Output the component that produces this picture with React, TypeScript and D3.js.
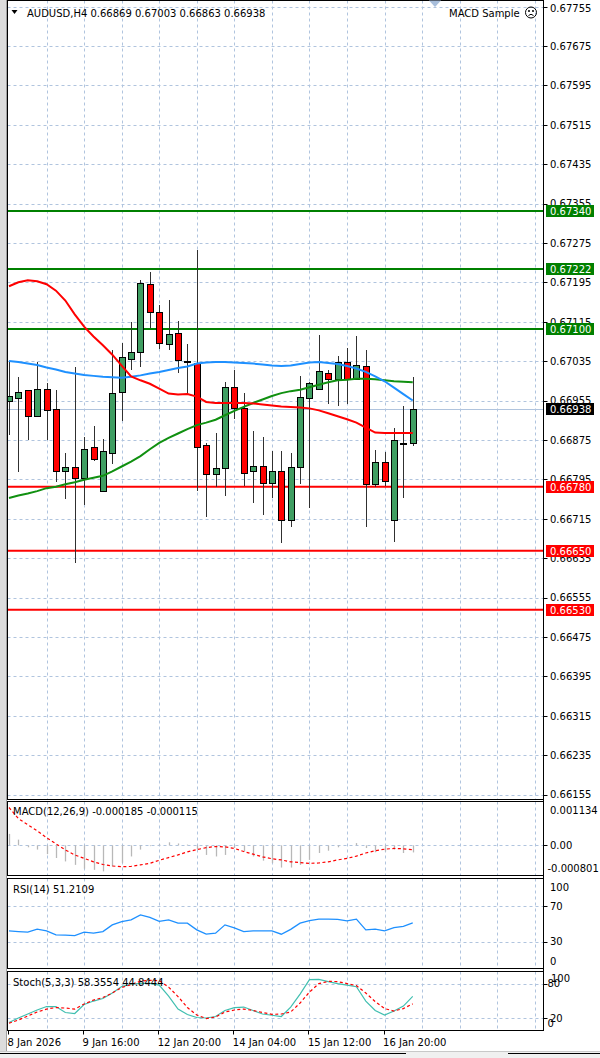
import React from "react";
import * as d3 from "d3";

// ---------- data ----------
const dateLabels = ["8 Jan 2026", "9 Jan 16:00", "12 Jan 20:00", "14 Jan 04:00", "15 Jan 12:00", "16 Jan 20:00"];
const dateLabelBars = [0, 8, 16, 24, 32, 40];

const openP = [0.66954,0.66961,0.66976,0.66923,0.66978,0.66937,0.66811,0.66820,0.66797,0.66860,0.66772,0.66849,0.66972,0.67040,0.67053,0.67191,0.67134,0.67069,0.67093,0.67035,0.67031,0.66864,0.66806,0.66818,0.66983,0.66940,0.66811,0.66823,0.66787,0.66811,0.66713,0.66820,0.66960,0.66979,0.67011,0.66999,0.67033,0.66999,0.67026,0.66786,0.66831,0.66713,0.66867,0.66869];
const highP = [0.67036,0.67002,0.66977,0.67033,0.66990,0.66976,0.66849,0.67024,0.66881,0.66904,0.66876,0.67058,0.67071,0.67115,0.67199,0.67215,0.67148,0.67160,0.67116,0.67069,0.67260,0.66868,0.66890,0.66992,0.67016,0.66971,0.66893,0.66881,0.66852,0.66852,0.66849,0.67004,0.66992,0.67088,0.67017,0.67046,0.67062,0.67086,0.67058,0.66855,0.66850,0.66900,0.66943,0.67003];
const lowP = [0.66884,0.66809,0.66874,0.66921,0.66874,0.66789,0.66754,0.66626,0.66742,0.66832,0.66771,0.66826,0.66914,0.67016,0.67023,0.67103,0.67059,0.67057,0.67010,0.66969,0.66772,0.66718,0.66779,0.66762,0.66918,0.66782,0.66746,0.66722,0.66757,0.66665,0.66698,0.66786,0.66736,0.66978,0.66948,0.66943,0.66948,0.66998,0.66699,0.66780,0.66782,0.66667,0.66757,0.66863];
const closeP = [0.66964,0.66973,0.66923,0.66978,0.66935,0.66811,0.66820,0.66798,0.66856,0.66837,0.66852,0.66971,0.67043,0.67053,0.67193,0.67134,0.67071,0.67091,0.67038,0.67034,0.66860,0.66806,0.66818,0.66983,0.66940,0.66808,0.66823,0.66787,0.66811,0.66713,0.66820,0.66962,0.66991,0.67014,0.66999,0.67033,0.66999,0.67028,0.66786,0.66831,0.66791,0.66874,0.66869,0.66938];

const maRed = [0.67187,0.67195,0.67199,0.67197,0.67191,0.67178,0.67158,0.67130,0.67105,0.67085,0.67067,0.67048,0.67026,0.67004,0.66996,0.66989,0.66979,0.66969,0.66967,0.66968,0.66963,0.66952,0.66950,0.66950,0.66950,0.66950,0.66949,0.66947,0.66945,0.66943,0.66942,0.66941,0.66939,0.66935,0.66929,0.66923,0.66917,0.66910,0.66900,0.66890,0.66889,0.66889,0.66889,0.66889];
const maBlue = [0.67035,0.67033,0.67030,0.67027,0.67022,0.67018,0.67013,0.67010,0.67007,0.67005,0.67003,0.67002,0.67001,0.67003,0.67006,0.67010,0.67013,0.67017,0.67021,0.67024,0.67030,0.67032,0.67033,0.67033,0.67032,0.67031,0.67030,0.67028,0.67026,0.67025,0.67026,0.67029,0.67032,0.67033,0.67031,0.67029,0.67025,0.67020,0.67013,0.67004,0.66994,0.66981,0.66968,0.66955];
const maGreen = [0.66757,0.66762,0.66766,0.66771,0.66777,0.66780,0.66785,0.66789,0.66794,0.66798,0.66802,0.66811,0.66821,0.66831,0.66842,0.66856,0.66869,0.66879,0.66888,0.66897,0.66905,0.66910,0.66916,0.66925,0.66934,0.66942,0.66950,0.66957,0.66964,0.66970,0.66974,0.66977,0.66982,0.66987,0.66992,0.66996,0.66997,0.66999,0.66999,0.66998,0.66996,0.66994,0.66993,0.66992];

const macdMain = [0.00030,0.00015,-0.00005,-0.00011,-0.00023,-0.00033,-0.00042,-0.00051,-0.00061,-0.00064,-0.00068,-0.00055,-0.00046,-0.00029,-0.00011,-0.00002,0.00003,0.00008,0.00005,0.00002,-0.00011,-0.00025,-0.00029,-0.00025,-0.00007,-0.00016,-0.00029,-0.00040,-0.00046,-0.00058,-0.00058,-0.00051,-0.00038,-0.00020,-0.00014,-0.00005,0.00000,0.00006,-0.00007,-0.00018,-0.00016,-0.00011,-0.00020,-0.000185];
const macdSignal = [0.00099,0.00070,0.00054,0.00038,0.00020,0.00004,-0.00012,-0.00025,-0.00034,-0.00043,-0.00050,-0.00054,-0.00056,-0.00055,-0.00051,-0.00047,-0.00039,-0.00032,-0.00025,-0.00017,-0.00011,-0.00006,-0.00003,-0.00004,-0.00008,-0.00016,-0.00023,-0.00030,-0.00035,-0.00038,-0.00043,-0.00045,-0.00047,-0.00046,-0.00043,-0.00038,-0.00034,-0.00028,-0.00020,-0.00014,-0.00010,-0.00008,-0.00009,-0.000115];

const rsi = [42.2,41.4,40.7,44.1,42.2,37.6,37.3,36.8,40.7,39.6,41.4,49.0,52.8,54.7,60.4,57.4,53.0,54.7,51.0,51.0,43.3,38.4,39.6,49.0,45.6,41.4,42.2,42.2,42.2,38.4,43.9,51.0,53.9,55.5,55.5,55.3,53.6,55.5,43.3,44.1,42.2,46.0,47.3,51.2109];

const stochK = [11.3,19.4,26.6,33.8,40.0,40.0,29.3,27.5,43.6,49.9,54.4,64.3,75.9,80.4,81.7,81.7,78.6,58.9,35.5,25.7,20.3,19.4,22.1,32.9,38.2,39.1,32.9,26.6,24.4,22.1,39.1,62.5,88.5,88.9,84.9,81.3,78.6,75.6,49.9,32.9,24.8,32.0,40.9,58.3554];
const stochD = [9.9,15.8,23.0,30.2,35.5,38.2,37.3,35.5,44.5,51.7,56.2,64.3,74.1,79.5,85.8,87.1,86.7,75.0,58.0,38.2,24.8,18.5,21.2,30.2,33.8,35.5,32.9,29.3,26.0,26.6,30.2,46.3,66.1,81.3,85.3,84.9,81.3,77.7,64.3,49.0,36.4,32.0,36.4,44.8444];

const priceTicks = [0.67755,0.67675,0.67595,0.67515,0.67435,0.67355,0.67275,0.67195,0.67115,0.67035,0.66955,0.66875,0.66795,0.66715,0.66635,0.66555,0.66475,0.66395,0.66315,0.66235,0.66155];
const resistanceLevels = [0.67340, 0.67222, 0.67100];
const supportLevels = [0.66780, 0.66650, 0.66530];
const lastPrice = 0.66938;
const macdRange = [-0.000801, 0.001134];
const rsiLevels = [70, 30];
const stochLevels = [80, 20];

const FONT = "'DejaVu Sans', Tahoma, sans-serif";
const GRID = "#b0c4de";
const BULL = "#3f9e62";
const BEAR = "#ff0000";

export default function App() {
  const L = 7.5, R = 543.5;
  const mainTop = 0.5, mainBot = 799.5;
  const macdTop = 801.5, macdBot = 875.5;
  const rsiTop = 878.5, rsiBot = 968.5;
  const stTop = 971.5, stBot = 1030.5;

  const x = d3.scaleLinear().domain([0, 57]).range([9, 544.2]);
  const y = d3.scaleLinear().domain([0.66155, 0.67755]).range([794.5, 6.5]);
  const yM = d3.scaleLinear().domain(macdRange).range([876, 802]);
  const yR = d3.scaleLinear().domain([0, 100]).range([968, 880]);
  const yS = d3.scaleLinear().domain([0, 100]).range([1028.8, 973.2]);

  const gridBars = d3.range(4, 57, 4);
  const idx = d3.range(openP.length);
  const mk = (arr: number[], sc: any) =>
    d3.line<number>().x((_, i) => x(i)).y((d) => sc(d)).curve(d3.curveLinear)(arr) || "";

  const vGrid = (top: number, bot: number) =>
    gridBars.map((b) => (
      <line key={"vg" + b} x1={Math.round(x(b)) + 0.5} x2={Math.round(x(b)) + 0.5} y1={top} y2={bot}
        stroke={GRID} strokeDasharray="3,3" />
    ));
  const hLine = (yy: number, key: string) => (
    <line key={key} x1={L} x2={R} y1={Math.round(yy) + 0.5} y2={Math.round(yy) + 0.5} stroke={GRID} strokeDasharray="3,3" />
  );
  const tick = (yy: number, key: string) => (
    <line key={key} x1={R} x2={R + 4} y1={Math.round(yy) + 0.5} y2={Math.round(yy) + 0.5} stroke="#000" />
  );

  const levelBox = (p: number, fill: string, key: string) => {
    const yy = Math.round(y(p));
    return (
      <g key={key}>
        <rect x={546} y={yy - 6} width={48} height={12} fill={fill} />
        <text x={550} y={yy + 3.8} fill="#fff">{p.toFixed(5)}</text>
      </g>
    );
  };

  return (
    <svg width={600} height={1058} style={{ position: "absolute", left: 0, top: 0, background: "#fff" }}
      fontFamily={FONT} fontSize={10}>
      <defs>
        <clipPath id="cMain"><rect x={8} y={1} width={535} height={798} /></clipPath>
        <clipPath id="cMacd"><rect x={8} y={802} width={535} height={73} /></clipPath>
        <clipPath id="cRsi"><rect x={8} y={879} width={535} height={89} /></clipPath>
        <clipPath id="cSt"><rect x={8} y={972} width={535} height={58} /></clipPath>
      </defs>
      <rect x={0} y={0} width={600} height={1058} fill="#fff" />
      {/* window frame */}
      <rect x={0} y={0} width={6} height={1052} fill="#dcdcdc" />
      <line x1={6.5} x2={6.5} y1={0} y2={1052} stroke="#a0a0a0" />

      {/* ---------- main panel ---------- */}
      {vGrid(mainTop, mainBot)}
      {priceTicks.map((t) => hLine(y(t), "hg" + t))}
      <g clipPath="url(#cMain)">
        <line x1={L} x2={R} y1={Math.round(y(lastPrice)) + 0.5} y2={Math.round(y(lastPrice)) + 0.5} stroke="#b0c4de" />
        {resistanceLevels.map((p) => (
          <line key={"rl" + p} x1={L} x2={R} y1={y(p)} y2={y(p)} stroke="#008000" strokeWidth={2} />
        ))}
        {supportLevels.map((p) => (
          <line key={"sl" + p} x1={L} x2={R} y1={y(p)} y2={y(p)} stroke="#ff0000" strokeWidth={2} />
        ))}
        {idx.map((i) => {
          const cx = Math.round(x(i));
          const o = openP[i], c = closeP[i];
          const top = Math.round(y(Math.max(o, c)));
          const bot = Math.round(y(Math.min(o, c)));
          const bull = c >= o;
          return (
            <g key={"c" + i}>
              <line x1={cx + 0.5} x2={cx + 0.5} y1={Math.round(y(highP[i]))} y2={Math.round(y(lowP[i]))} stroke="#303030" />
              {bot - top < 1 ? (
                <line x1={cx - 2.5} x2={cx + 3.5} y1={top + 0.5} y2={top + 0.5} stroke="#000" />
              ) : (
                <rect x={cx - 2.5} y={top + 0.5} width={6} height={bot - top} fill={bull ? BULL : BEAR} stroke="#000" />
              )}
            </g>
          );
        })}
        <path d={mk(maGreen, y)} fill="none" stroke="#109010" strokeWidth={2} />
        <path d={mk(maBlue, y)} fill="none" stroke="#1e90ff" strokeWidth={2} />
        <path d={mk(maRed, y)} fill="none" stroke="#ff0000" strokeWidth={2} />
      </g>
      <rect x={L} y={mainTop} width={R - L} height={mainBot - mainTop} fill="none" stroke="#000" />
      {/* chart shift marker */}
      <path d="M429,0.5 L441,0.5 L435,7 Z" fill="#a8bedb" />
      {/* title */}
      <path d="M11.5,10 L17.5,10 L14.5,14 Z" fill="#000" />
      <text x={27} y={16.5} fill="#000">AUDUSD,H4  0.66869 0.67003 0.66863 0.66938</text>
      <text x={449} y={16.5} fill="#000">MACD Sample</text>
      <g transform="translate(531,12.5)" fill="none" stroke="#000">
        <circle r={5.5} />
        <circle cx={-2} cy={-1.5} r={0.6} fill="#000" />
        <circle cx={2} cy={-1.5} r={0.6} fill="#000" />
        <path d="M-2.5,3 Q0,0.5 2.5,3" />
      </g>
      {/* price axis */}
      {priceTicks.map((t) => tick(y(t), "pt" + t))}
      {priceTicks.map((t) => {
        const c = Math.min(Math.max(y(t), 8.5), 794);
        return <text key={"pl" + t} x={550} y={c + 3.8} fill="#000">{t.toFixed(5)}</text>;
      })}
      {resistanceLevels.map((p) => levelBox(p, "#008000", "rb" + p))}
      {supportLevels.map((p) => levelBox(p, "#ff0000", "sb" + p))}
      {levelBox(lastPrice, "#000000", "lp")}

      {/* ---------- MACD panel ---------- */}
      {vGrid(macdTop, macdBot)}
      {hLine(yM(0), "m0")}
      <g clipPath="url(#cMacd)">
        {idx.map((i) => (
          <line key={"h" + i} x1={Math.round(x(i)) + 0.5} x2={Math.round(x(i)) + 0.5}
            y1={yM(0)} y2={yM(macdMain[i])} stroke="#b8b8b8" strokeWidth={1.3} />
        ))}
        <path d={mk(macdSignal, yM)} fill="none" stroke="#ff0000" strokeWidth={1.2} strokeDasharray="3,2.5" />
      </g>
      <rect x={L} y={macdTop} width={R - L} height={macdBot - macdTop} fill="none" stroke="#000" />
      <text x={13} y={815.3} fill="#000">MACD(12,26,9) -0.000185 -0.000115</text>
      {tick(yM(0), "mt0")}
      <text x={550} y={813.8} fill="#000">{macdRange[1].toFixed(6)}</text>
      <text x={550} y={yM(0) + 3.8} fill="#000">0.00</text>
      <text x={547.5} y={871.5} fill="#000">{macdRange[0].toFixed(6)}</text>

      {/* ---------- RSI panel ---------- */}
      {vGrid(rsiTop, rsiBot)}
      {rsiLevels.map((v) => hLine(yR(v), "rg" + v))}
      <g clipPath="url(#cRsi)">
        <path d={mk(rsi, yR)} fill="none" stroke="#1e90ff" strokeWidth={1.3} />
      </g>
      <rect x={L} y={rsiTop} width={R - L} height={rsiBot - rsiTop} fill="none" stroke="#000" />
      <text x={13} y={893} fill="#000">RSI(14) 51.2109</text>
      {rsiLevels.map((v) => tick(yR(v), "rt" + v))}
      <text x={550} y={890.5} fill="#000">100</text>
      {rsiLevels.map((v) => (
        <text key={"rl" + v} x={550} y={yR(v) + 3.8} fill="#000">{v}</text>
      ))}
      <text x={550} y={964.5} fill="#000">0</text>

      {/* ---------- Stochastic panel ---------- */}
      {vGrid(stTop, stBot)}
      {stochLevels.map((v) => hLine(yS(v), "sg" + v))}
      <g clipPath="url(#cSt)">
        <path d={mk(stochK, yS)} fill="none" stroke="#40bfb0" strokeWidth={1.2} />
        <path d={mk(stochD, yS)} fill="none" stroke="#ff0000" strokeWidth={1.2} strokeDasharray="3,2.5" />
      </g>
      <rect x={L} y={stTop} width={R - L} height={stBot - stTop} fill="none" stroke="#000" />
      <text x={13} y={986.3} fill="#000">Stoch(5,3,3) 58.3554 44.8444</text>
      {stochLevels.map((v) => tick(yS(v), "st" + v))}
      <text x={551} y={982} fill="#000">100</text>
      <text x={547.5} y={987} fill="#000">80</text>
      <text x={550} y={1021.5} fill="#000">20</text>
      <text x={547.5} y={1027} fill="#000">0</text>

      {/* axis line */}
      <line x1={R} x2={R} y1={0} y2={1031} stroke="#000" />

      {/* ---------- date axis ---------- */}
      {dateLabelBars.map((b, k) => (
        <g key={"d" + b}>
          <line x1={Math.round(x(b)) - 0.5} x2={Math.round(x(b)) - 0.5} y1={1030.5} y2={1034.5} stroke="#000" />
          <text x={x(b) - 1.5} y={1045.5} fill="#000">{dateLabels[k]}</text>
        </g>
      ))}

      {/* bottom window edge */}
      <line x1={0} x2={600} y1={1051.5} y2={1051.5} stroke="#c8c8c8" />
      <rect x={0} y={1052} width={600} height={6} fill="#f0f0f0" />
      <line x1={0} x2={406} y1={1053.5} y2={1053.5} stroke="#000" />
      <line x1={508} x2={600} y1={1053.5} y2={1053.5} stroke="#000" />
    </svg>
  );
}
